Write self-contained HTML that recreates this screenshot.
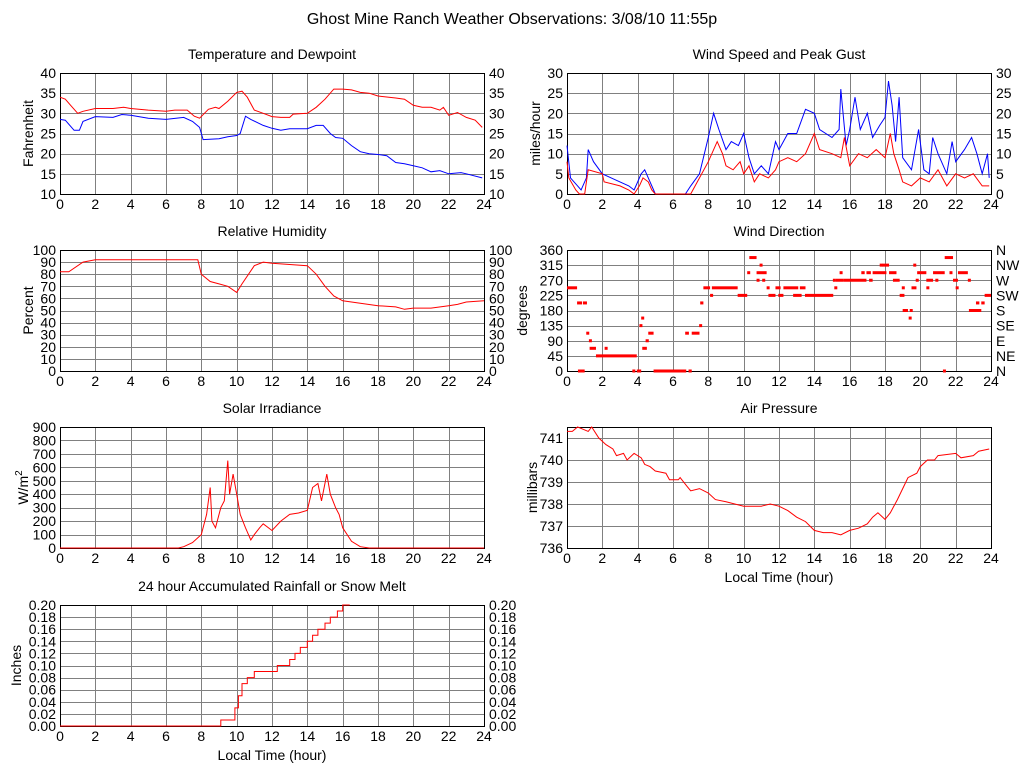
<!DOCTYPE html>
<html><head><meta charset="utf-8"><style>
body{margin:0;background:#fff;width:1024px;height:768px;overflow:hidden}
svg text{font-family:"Liberation Sans",sans-serif;fill:#000}
</style></head><body>
<svg id="chart" width="1024" height="768" xmlns="http://www.w3.org/2000/svg">
<text x="512" y="24" font-size="16" text-anchor="middle">Ghost Mine Ranch Weather Observations: 3/08/10 11:55p</text>
</svg>
<script>
// ---- data ----
const tempHours=[0,0.3,0.6,1.0,1.3,2,3,3.6,4,5,6,6.5,7.2,7.6,7.9,8.4,8.8,9,9.5,10,10.3,10.6,11,11.5,12,12.5,13,13.2,14,14.5,15,15.5,16,16.5,17,17.5,18,19,19.5,20,20.5,21,21.5,21.7,22,22.5,23,23.5,23.9];
const tempValues=[34,33.5,32,30,30.5,31.2,31.2,31.5,31.2,30.8,30.5,30.8,30.8,29.3,28.8,31,31.5,31.2,33,35.2,35.5,34,30.8,30,29.2,29,29,29.8,30,31.5,33.5,36,36,35.8,35.2,35,34.3,33.8,33.5,32,31.5,31.5,30.8,31.5,29.5,30.2,29,28.3,26.5];
const dewHours=[0,0.3,0.8,1.1,1.3,2,3,3.5,4,5,6,7,7.5,7.9,8.1,9,9.5,10,10.2,10.5,10.8,11.5,12,12.5,13,14,14.5,14.9,15.3,15.6,16,16.5,17,17.5,18,18.5,19,19.5,20,20.5,21,21.5,22,22.7,23,23.9];
const dewValues=[28.5,28.3,25.8,25.8,28,29.2,29,29.7,29.5,28.8,28.5,29,28,26.5,23.5,23.7,24.2,24.5,25,29.3,28.5,27,26.3,25.8,26.2,26.2,27,27,25,24,23.8,22,20.5,20,19.8,19.5,17.8,17.5,17,16.5,15.5,15.8,15,15.3,15,14];
const windHours=[0,0.1,0.5,0.7,1.0,1.1,1.2,2,2.1,3,3.5,3.8,4.1,4.3,4.6,4.8,5,7,7.5,8,8.5,8.8,9,9.4,9.8,10,10.3,10.6,10.9,11.4,11.8,12,12.5,13,13.5,14,14.3,15,15.5,15.7,16,16.5,17,17.5,18,18.3,18.5,18.8,19,19.5,20,20.5,21,21.5,22,22.5,23,23.5,23.9];
const windValues=[8,4,1,0,0,3,6,5,3,2,1,0,2,4,3,1,0,0,4,8,13,10,7,6,8,5,7,3,5,4,6,8,9,8,10,15,11,10,9,14,7,10,9,11,9,15,10,6,3,2,4,3,6,2,5,4,5,2,2];
const gustHours=[0,0.2,0.6,0.8,1.1,1.2,1.5,2,2.5,3,3.5,3.8,4.2,4.4,4.6,4.9,5,6.7,7,7.5,8,8.3,8.6,9,9.3,9.7,10,10.3,10.6,11,11.4,11.8,12,12.5,13,13.5,14,14.3,15,15.4,15.5,15.8,16,16.3,16.6,17,17.3,17.7,18,18.2,18.4,18.6,18.8,19,19.5,19.9,20.2,20.5,20.7,21,21.5,21.8,22,22.5,22.9,23.2,23.5,23.8,23.9];
const gustValues=[12,4,2,1,4,11,8,5,4,3,2,1,5,6,4,1,0,0,2,5,14,20,16,11,13,12,15,9,5,7,5,13,11,15,15,21,20,16,14,16,26,12,16,24,16,20,14,17,19,28,22,13,24,9,6,16,6,5,14,10,5,13,8,11,14,10,5,10,4];
const rhHours=[0,0.5,1.3,2,7.8,8,8.5,9,9.5,10,10.3,11,11.5,12,13,14,14.5,15,15.5,16,17,18,19,19.5,20,21,22,22.5,23,24];
const rhValues=[82,82,90,92,92,80,74,72,70,65,72,87,90,89,88,87,80,70,62,58,56,54,53,51,52,52,54,55,57,58];
const dirRuns=[[0,0.57,247.5],[0.57,0.85,202.5],[0.9,1.13,202.5],[0.62,1.0,0],[1.09,1.24,112.5],[1.24,1.28,90],[1.28,1.64,67.5],[1.64,3.95,45],[2.13,2.26,67.5],[3.7,3.83,0],[3.95,4.2,0],[4.1,4.15,135],[4.2,4.26,157.5],[4.26,4.52,67.5],[4.45,4.63,90],[4.6,4.9,112.5],[4.9,6.75,0],[6.69,6.9,112.5],[6.88,7.06,0],[7.06,7.5,112.5],[7.48,7.54,135],[7.54,7.72,202.5],[7.72,8.1,247.5],[8.1,8.2,225],[8.2,9.66,247.5],[9.66,10.2,225],[10.2,10.32,292.5],[10.32,10.73,337.5],[10.73,11.3,292.5],[10.9,10.96,315],[10.73,10.87,270],[11.05,11.17,270],[11.3,11.4,247.5],[11.4,11.8,225],[11.8,12.09,247.5],[11.96,12.25,225],[12.25,13.09,247.5],[12.8,13.28,225],[13.18,13.5,247.5],[13.47,15.07,225],[15.05,15.11,270],[15.13,15.2,247.5],[15.22,15.63,270],[15.43,15.5,292.5],[15.63,16.95,270],[16.66,16.85,292.5],[16.95,17.2,292.5],[17.1,17.3,270],[17.3,18.08,292.5],[17.7,17.76,315],[17.85,18.23,315],[18.23,18.65,292.5],[18.45,18.83,270],[18.83,19.1,225],[18.95,19.0,247.5],[19.0,19.3,180],[19.34,19.38,157.5],[19.4,19.44,180],[19.5,19.78,247.5],[19.6,19.66,315],[19.74,19.8,270],[19.82,20.34,292.5],[20.34,20.38,247.5],[20.34,20.72,270],[20.72,21.38,292.5],[20.85,20.9,270],[21.28,21.34,0],[21.38,21.85,337.5],[21.65,21.71,292.5],[21.85,22.13,270],[22.0,22.06,247.5],[22.13,22.69,292.5],[22.69,22.75,270],[22.75,23.45,180],[23.15,23.34,202.5],[23.45,23.64,202.5],[23.64,24,225]];
const solarHours=[0,6.7,7,7.5,8,8.3,8.5,8.6,8.8,9.1,9.3,9.5,9.6,9.8,10,10.2,10.5,10.8,11,11.3,11.5,12,12.5,13,13.5,14,14.3,14.6,14.8,15.1,15.3,15.6,15.8,16,16.5,17,17.5,24];
const solarValues=[0,0,10,40,100,250,450,200,150,300,350,650,400,550,400,250,150,60,100,150,180,130,200,250,260,280,450,480,350,550,400,300,250,150,50,10,0,0];
const pressHours=[0,0.3,0.6,0.9,1.2,1.4,1.8,2.2,2.6,2.8,3.2,3.4,3.8,4.2,4.4,4.7,5,5.6,5.8,6.3,6.4,6.8,7,7.5,8,8.4,9,9.5,10,11,11.5,12,12.5,13,13.5,14,14.5,15,15.5,16,16.5,17,17.3,17.6,18,18.3,18.7,19,19.3,19.8,20,20.4,20.8,21,22,22.3,23,23.3,23.9];
const pressValues=[741.3,741.3,741.5,741.4,741.3,741.5,741.0,740.7,740.5,740.2,740.3,740.0,740.3,740.1,739.8,739.7,739.5,739.4,739.1,739.1,739.2,738.8,738.6,738.7,738.5,738.2,738.1,738.0,737.9,737.9,738.0,737.9,737.7,737.4,737.2,736.8,736.7,736.7,736.6,736.8,736.9,737.1,737.4,737.6,737.3,737.6,738.2,738.7,739.2,739.4,739.7,740.0,740.0,740.2,740.3,740.1,740.2,740.4,740.5];
const rainHours=[0,9,9.1,9.9,10.1,10.3,10.6,11,12.3,13,13.3,13.6,14,14.3,14.6,15,15.3,15.7,16,16.4];
const rainValues=[0,0,0.01,0.03,0.05,0.07,0.08,0.09,0.10,0.11,0.12,0.13,0.14,0.15,0.16,0.17,0.18,0.19,0.20,0.20];
const hourTicks=[0,2,4,6,8,10,12,14,16,18,20,22,24];
const tempTicks=[10,15,20,25,30,35,40];
const windTicks=[0,5,10,15,20,25,30];
const rhTicks=[0,10,20,30,40,50,60,70,80,90,100];
const dirTicks=[0,45,90,135,180,225,270,315,360];
const dirLabels=["N","NE","E","SE","S","SW","W","NW","N"];
const solarTicks=[0,100,200,300,400,500,600,700,800,900];
const pressTicks=[736,737,738,739,740,741];
const rainTicks=[0,0.02,0.04,0.06,0.08,0.10,0.12,0.14,0.16,0.18,0.20];

const svg=document.getElementById('chart');
const NS='http://www.w3.org/2000/svg';
function mk(tag,attrs,parent){const e=document.createElementNS(NS,tag);for(const k in attrs)e.setAttribute(k,attrs[k]);(parent||svg).appendChild(e);return e;}
function panel(p){
  const g=mk('g',{});
  
  
  const xs=h=>p.x0+(h/24)*(p.x1-p.x0);
  const ys=v=>p.y1-(v-p.vmin)/(p.vmax-p.vmin)*(p.y1-p.y0);
  p.xs=xs;p.ys=ys;
  hourTicks.forEach(h=>{
    const x=Math.round(xs(h))+0.5;
    const l=mk('line',{x1:x,x2:x,y1:p.y0,y2:p.y1,stroke:'#808080','stroke-width':1},g);
    
    
    const t=mk('text',{x:xs(h),y:p.y1+15,'font-size':14,'text-anchor':'middle'},g);
    t.textContent=h;
    
    
  });
  p.ticks.forEach((v,i)=>{
    const y=Math.round(ys(v))+0.5;
    if(p.grid!==false||(v>p.vmin&&v<p.vmax)){
      const l=mk('line',{x1:p.x0,x2:p.x1,y1:y,y2:y,stroke:'#808080','stroke-width':1},g);
      
      
    }
    const lab=p.fmt?p.fmt(v):String(v);
    const t=mk('text',{x:p.x0-4,y:ys(v)+5,'font-size':14,'text-anchor':'end'},g);
    t.textContent=lab;
    
    
    if(p.right){
      const t2=mk('text',{x:p.x1+5,y:ys(v)+5,'font-size':14,'text-anchor':'start'},g);
      t2.textContent=p.right===true?lab:p.right[i];
      
      
    }
  });
  const f=mk('rect',{x:p.x0+0.5,y:p.y0+0.5,width:p.x1-p.x0,height:p.y1-p.y0,fill:'none',stroke:'#000','stroke-width':1},g);
  
  
  const tt=mk('text',{x:(p.x0+p.x1)/2,y:p.y0-14,'font-size':14,'text-anchor':'middle'},g);
  tt.textContent=p.title;
  
  
  const yt=mk('text',{x:0,y:0,'font-size':14,'text-anchor':'middle',transform:`translate(${p.ytx},${(p.y0+p.y1)/2}) rotate(-90)`},g);
  if(p.ytitleHTML){yt.innerHTML=p.ytitleHTML;}else{yt.textContent=p.ytitle;}
  
  
  if(p.xtitle){
    const xt=mk('text',{x:(p.x0+p.x1)/2,y:p.y1+34,'font-size':14,'text-anchor':'middle'},g);
    xt.textContent='Local Time (hour)';
    
    
  }
  p.g=g;return p;
}
function line(p,hs,vs,color,name,step){
  let pts=[];
  for(let i=0;i<hs.length;i++){
    const x=p.xs(hs[i]).toFixed(1),y=p.ys(vs[i]).toFixed(1);
    if(step&&i>0)pts.push(x+','+p.ys(vs[i-1]).toFixed(1));
    pts.push(x+','+y);
  }
  const l=mk('polyline',{points:pts.join(' '),fill:'none',stroke:color,'stroke-width':1},p.g);
  
  
}
const L0=60,L1=484,R0=567,R1=991;
const pT=panel({name:'temperature-panel',title:'Temperature and Dewpoint',x0:L0,x1:L1,y0:73,y1:194,vmin:10,vmax:40,ticks:tempTicks,right:true,ytitle:'Fahrenheit',ytx:33});
line(pT,tempHours,tempValues,'#ff0000','temperature-line');
line(pT,dewHours,dewValues,'#0000ff','dewpoint-line');
const pW=panel({name:'wind-speed-panel',title:'Wind Speed and Peak Gust',x0:R0,x1:R1,y0:73,y1:194,vmin:0,vmax:30,ticks:windTicks,right:true,ytitle:'miles/hour',ytx:540});
line(pW,gustHours,gustValues,'#0000ff','gust-line');
line(pW,windHours,windValues,'#ff0000','wind-speed-line');
const pH=panel({name:'humidity-panel',title:'Relative Humidity',x0:L0,x1:L1,y0:250,y1:371,vmin:0,vmax:100,ticks:rhTicks,right:true,ytitle:'Percent',ytx:33});
line(pH,rhHours,rhValues,'#ff0000','humidity-line');
const pD=panel({name:'wind-direction-panel',title:'Wind Direction',x0:R0,x1:R1,y0:250,y1:371,vmin:0,vmax:360,ticks:dirTicks,right:dirLabels,ytitle:'degrees',ytx:527});
dirRuns.forEach(r=>{
  const x0=pD.xs(r[0]),x1=pD.xs(r[1]);
  const rc=mk('rect',{x:x0,y:pD.ys(r[2])-1.5,width:Math.max(3,x1-x0),height:3,fill:'#ff0000'},pD.g);
  
  
});
const pS=panel({name:'solar-panel',title:'Solar Irradiance',x0:L0,x1:L1,y0:427,y1:548,vmin:0,vmax:900,ticks:solarTicks,right:false,ytitleHTML:'W/m<tspan dy="-6" font-size="10">2</tspan>',ytx:28});
line(pS,solarHours,solarValues,'#ff0000','solar-line');
const pP=panel({name:'pressure-panel',title:'Air Pressure',x0:R0,x1:R1,y0:427,y1:548,vmin:736,vmax:741.5,ticks:pressTicks,right:false,grid:false,ytitle:'millibars',ytx:537,xtitle:true});
line(pP,pressHours,pressValues,'#ff0000','pressure-line');
const pR=panel({name:'rainfall-panel',title:'24 hour Accumulated Rainfall or Snow Melt',x0:L0,x1:L1,y0:605,y1:726,vmin:0,vmax:0.2,ticks:rainTicks,right:true,fmt:v=>v.toFixed(2),ytitle:'Inches',ytx:21,xtitle:true});
line(pR,rainHours,rainValues,'#ff0000','rainfall-line',true);
</script>
</body></html>
